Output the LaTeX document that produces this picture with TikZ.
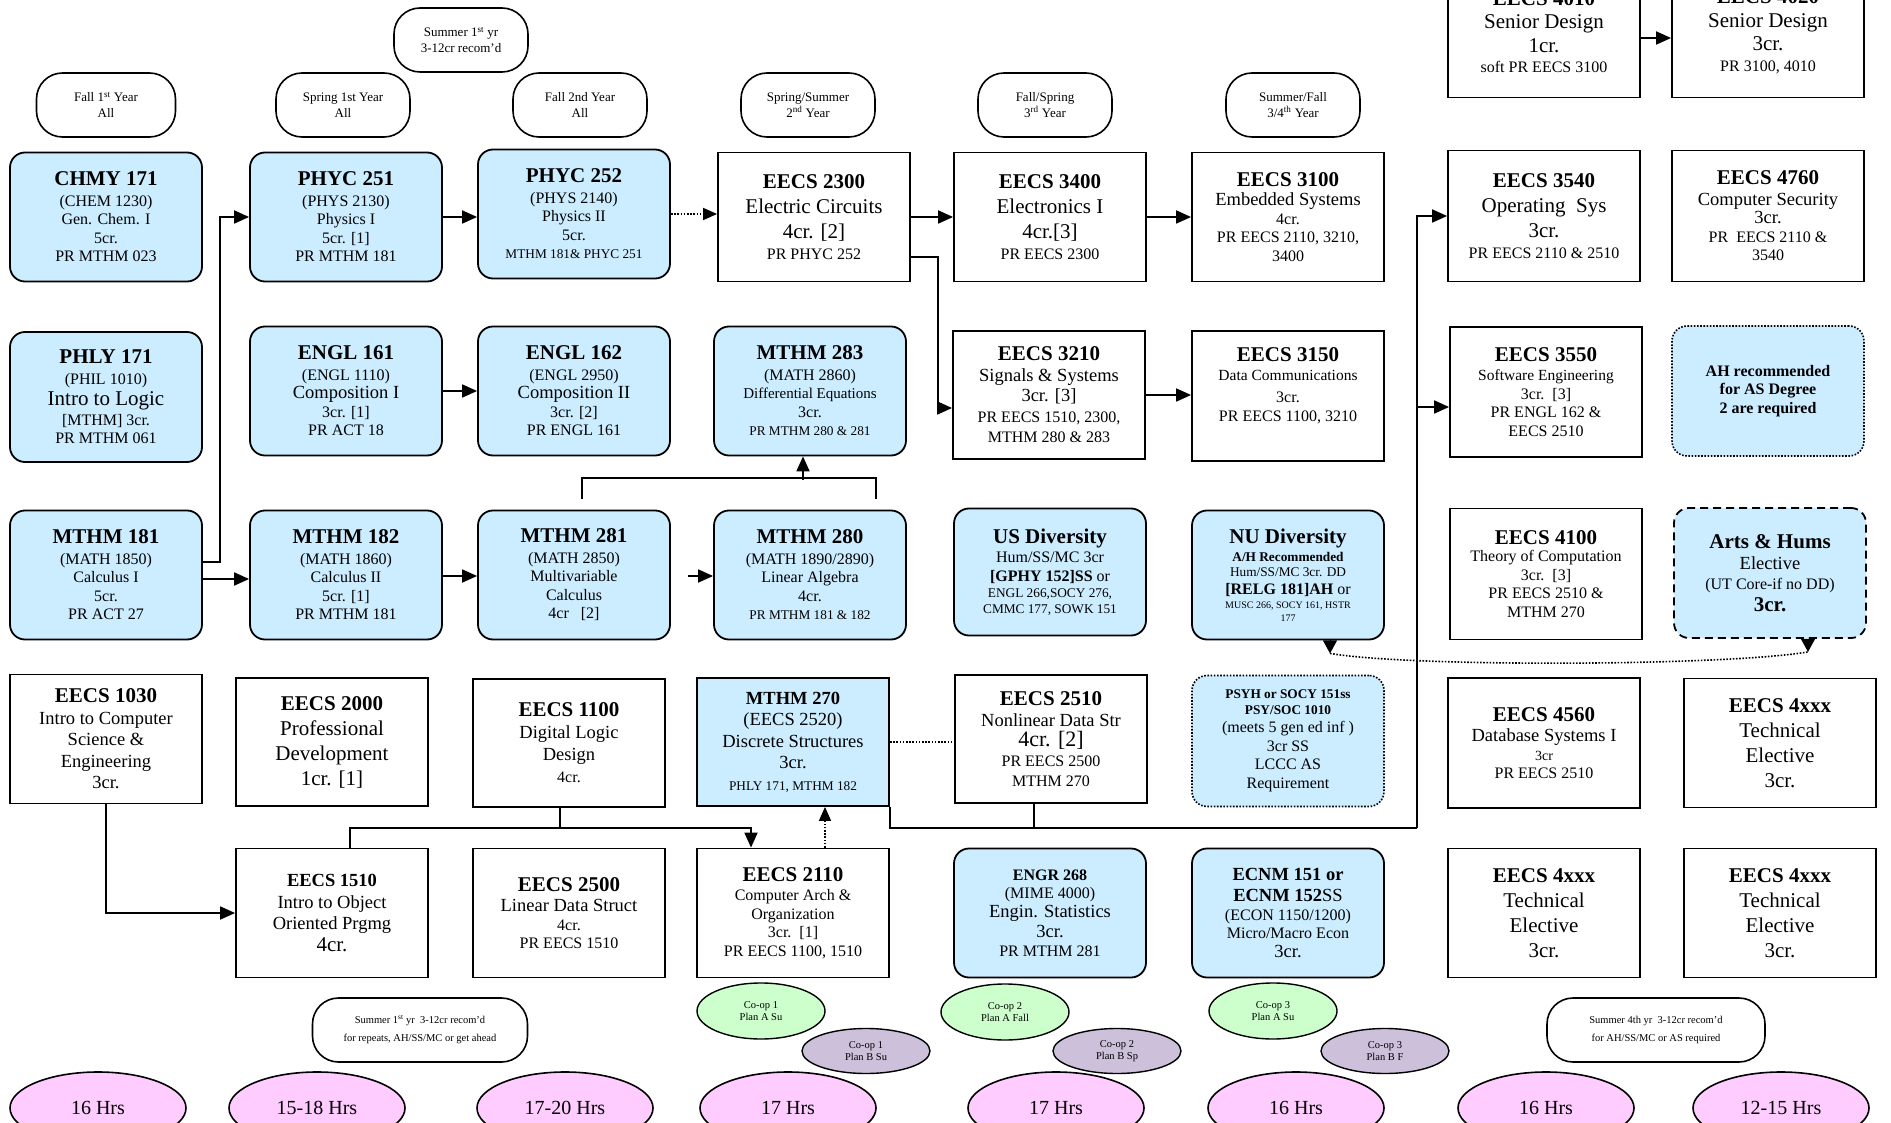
\documentclass[tikz,border=0pt]{standalone}
\usepackage{fontspec}
\setmainfont{Liberation Serif}
\usetikzlibrary{arrows.meta,shapes.geometric}
\definecolor{cblue}{RGB}{204,236,255}
\definecolor{cpink}{RGB}{255,204,255}
\definecolor{cgreen}{RGB}{204,255,204}
\definecolor{cpurple}{RGB}{204,192,218}
\newcommand\ffT{\fontsize{21}{24}\selectfont\bfseries}
\newcommand\ffL{\fontsize{21}{25}\selectfont}
\newcommand\ffK{\fontsize{18.5}{21.5}\selectfont}
\newcommand\ffM{\fontsize{16}{18.5}\selectfont}
\newcommand\ffS{\fontsize{13.3}{16}\selectfont}
\newcommand\ffO{\fontsize{13}{15.7}\selectfont}
\begin{document}
\begin{tikzpicture}[x=1pt,y=-1pt,
  box/.style={draw, line width=1.8pt, align=center, minimum width=192pt, minimum height=129pt, inner sep=1pt, font=\ffM},
  sq/.style={box, fill=white},
  sqb/.style={box, fill=cblue},
  rb/.style={box, rounded corners=15pt, fill=cblue},
  term/.style={draw, line width=1.6pt, rounded corners=26pt, minimum width=134pt, minimum height=64pt, align=center, font=\ffO, fill=white, inner sep=1pt},
  hrs/.style={draw, line width=1.6pt, ellipse, fill=cpink, minimum width=176pt, minimum height=72pt, inner sep=0pt, font=\fontsize{20}{22}\selectfont},
  coopa/.style={draw, line width=1.4pt, ellipse, fill=cgreen, minimum width=128pt, minimum height=56pt, inner sep=0pt, align=center, font=\fontsize{10.5}{12.5}\selectfont},
  coopb/.style={coopa, fill=cpurple, minimum height=45pt},
  conn/.style={line width=1.8pt},
  arr/.style={line width=1.8pt, -{Triangle[length=15pt,width=13pt]}},
  dots/.style={line width=1.6pt, dash pattern=on 1.6pt off 1.6pt},
  dotarr/.style={dots, -{Triangle[length=14pt,width=12pt]}}
]
\useasboundingbox (0,0) rectangle (1891,1123);
\fill[white] (0,0) rectangle (1891,1123);
\clip (0,0) rectangle (1891,1123);

% ---- semester ovals
\node[term, minimum width=139pt] (o1) at (106,105) {Fall 1\textsuperscript{st} Year\\All};
\node[term] (o2) at (343,105) {Spring 1st Year\\All};
\node[term] (o0) at (461,40) {Summer 1\textsuperscript{st} yr\\3-12cr recom’d};
\node[term] (o3) at (580,105) {Fall 2nd Year\\All};
\node[term] (o4) at (808,105) {Spring/Summer\\2\textsuperscript{nd} Year};
\node[term] (o5) at (1045,105) {Fall/Spring\\3\textsuperscript{rd} Year};
\node[term] (o6) at (1293,105) {Summer/Fall\\3/4\textsuperscript{th} Year};

% ---- row 1
\node[rb] (chmy) at (106,217) {{\ffT CHMY 171}\\[2pt] (CHEM 1230)\\ Gen. Chem. I\\ 5cr.\\ PR MTHM 023};
\node[rb] (p251) at (346,217) {{\ffT PHYC 251}\\[2pt] (PHYS 2130)\\ Physics I\\ 5cr. [1]\\ PR MTHM 181};
\node[rb] (p252) at (574,214) {{\ffT PHYC 252}\\[2pt] (PHYS 2140)\\ Physics II\\ 5cr.\\ {\ffS MTHM 181\& PHYC 251}};
\node[sq, font=\ffL] (e2300) at (814,217) {{\ffT EECS 2300}\\ Electric Circuits\\ 4cr. [2]\\[-4pt] {\ffM PR PHYC 252}};
\node[sq, font=\ffL] (e3400) at (1050,217) {{\ffT EECS 3400}\\ Electronics I\\ 4cr.[3]\\[-4pt] {\ffM PR EECS 2300}};
\node[sq] (e3100) at (1288,217) {{\ffT EECS 3100}\\[1pt] {\ffK Embedded Systems}\\ 4cr.\\ PR EECS 2110, 3210,\\ 3400};
\node[sq, font=\fontsize{21}{23.5}\selectfont, minimum height=131pt] (e4010) at (1544,32) {{\ffT EECS 4010}\\ Senior Design\\ 1cr.\\[-3pt] {\ffM soft PR EECS 3100}};
\node[sq, font=\fontsize{21}{23.5}\selectfont, minimum height=131pt] (e4020) at (1768,32) {{\ffT EECS 4020}\\ Senior Design\\ 3cr.\\[-3pt] {\ffM PR 3100, 4010}};
\node[sq, font=\ffL, minimum height=131pt] (e3540) at (1544,216) {{\ffT EECS 3540}\\ Operating\ \ Sys\\ 3cr.\\[-4pt] {\ffM PR EECS 2110 \& 2510}};
\node[sq, minimum height=131pt] (e4760) at (1768,216) {{\ffT EECS 4760}\\[2pt] {\ffK Computer Security}\\ {\ffK 3cr.}\\ PR\ \ EECS 2110 \&\\ 3540};

% ---- row 2
\node[rb, minimum height=130pt] (phly) at (106,397) {{\ffT PHLY 171}\\[2pt] (PHIL 1010)\\[3pt] {\ffL Intro to Logic}\\[1pt] {[MTHM] 3cr.}\\ PR MTHM 061};
\node[rb] (en161) at (346,391) {{\ffT ENGL 161}\\[2pt] (ENGL 1110)\\ {\ffK Composition I}\\ 3cr. [1]\\ PR ACT 18};
\node[rb] (en162) at (574,391) {{\ffT ENGL 162}\\[2pt] (ENGL 2950)\\ {\ffK Composition II}\\ 3cr. [2]\\ PR ENGL 161};
\node[rb] (m283) at (810,391) {{\ffT MTHM 283}\\[2pt] (MATH 2860)\\ {\fontsize{15}{18}\selectfont Differential Equations}\\ 3cr.\\ {\ffS PR MTHM 280 \& 281}};
\node[sq, font=\fontsize{16}{20.5}\selectfont, minimum height=128pt] (e3210) at (1049,395) {{\ffT EECS 3210}\\ {\ffK Signals \& Systems}\\ {\ffK 3cr. [3]}\\ PR EECS 1510, 2300,\\ MTHM 280 \& 283};
\node[sq, minimum height=130pt] (e3150) at (1288,396) {{\ffT EECS 3150}\\ {\fontsize{15.5}{18}\selectfont Data Communications}\\[4pt] 3cr.\\ PR EECS 1100, 3210\\[4pt] \mbox{}};
\node[sq, minimum height=130pt] (e3550) at (1546,392) {{\ffT EECS 3550}\\[1pt] {\fontsize{15.5}{18}\selectfont Software Engineering}\\ 3cr.\ \ [3]\\ PR ENGL 162 \&\\ EECS 2510};
\node[rb, dots, minimum height=130pt, font=\fontsize{16}{18.5}\selectfont\bfseries] (ah) at (1768,391) {AH recommended\\ for AS Degree\\ 2 are required};

% ---- row 3
\node[rb] (m181) at (106,575) {{\ffT MTHM 181}\\[2pt] (MATH 1850)\\ Calculus I\\ 5cr.\\ PR ACT 27};
\node[rb] (m182) at (346,575) {{\ffT MTHM 182}\\[2pt] (MATH 1860)\\ Calculus II\\ 5cr. [1]\\ PR MTHM 181};
\node[rb] (m281) at (574,575) {{\ffT MTHM 281}\\[2pt] (MATH 2850)\\ Multivariable\\ Calculus\\ 4cr\ \ \ [2]};
\node[rb] (m280) at (810,575) {{\ffT MTHM 280}\\[2pt] (MATH 1890/2890)\\ Linear Algebra\\ 4cr.\\ {\ffS PR MTHM 181 \& 182}};
\node[rb, minimum height=127pt] (usdiv) at (1050,572) {{\ffT US Diversity}\\[1pt] Hum/SS/MC 3cr\\ {\bfseries [GPHY 152]SS} or\\[-2pt] {\ffS ENGL 266,SOCY 276,}\\[-3pt] {\ffS CMMC 177, SOWK 151}};
\node[rb] (nudiv) at (1288,575) {{\ffT NU Diversity}\\[-1pt] {\ffS\bfseries A/H Recommended}\\[-3pt] {\ffS Hum/SS/MC 3cr. DD}\\[-1pt] {\bfseries [RELG 181]AH} or\\[-4pt] {\fontsize{10}{12}\selectfont MUSC 266, SOCY 161, HSTR}\\[-6pt] {\fontsize{10}{12}\selectfont 177}};
\node[sq, minimum height=131pt] (e4100) at (1546,574) {{\ffT EECS 4100}\\[-1pt] Theory of Computation\\ 3cr.\ \ [3]\\ PR EECS 2510 \&\\ MTHM 270};
\node[rb, dash pattern=on 8pt off 5pt, minimum height=130pt, font=\fontsize{16}{20.5}\selectfont] (arts) at (1770,573) {{\ffT Arts \& Hums}\\ {\ffK Elective}\\ (UT Core-if no DD)\\[1pt] {\ffT 3cr.}};

% ---- row 4
\node[sq, font=\ffK] (e1030) at (106,739) {{\ffT EECS 1030}\\ Intro to Computer\\ Science \&\\ Engineering\\ 3cr.};
\node[sq, font=\ffL, minimum height=128pt] (e2000) at (332,742) {{\ffT EECS 2000}\\ Professional\\ Development\\ 1cr. [1]};
\node[sq, font=\fontsize{18.5}{22}\selectfont, minimum height=128pt] (e1100) at (569,743) {{\ffT EECS 1100}\\ Digital Logic\\ Design\\ {\ffM 4cr.}};
\node[sqb, font=\fontsize{18.5}{21.5}\selectfont, minimum height=128pt] (m270) at (793,742) {{\bfseries MTHM 270}\\ (EECS 2520)\\ Discrete Structures\\ 3cr.\\ {\ffS PHLY 171, MTHM 182}};
\node[sq, font=\fontsize{16}{20}\selectfont, minimum height=128pt] (e2510) at (1051,739) {{\ffT EECS 2510}\\[1pt] {\ffK Nonlinear Data Str}\\ {\fontsize{22}{25}\selectfont 4cr. [2]}\\ PR EECS 2500\\ MTHM 270};
\node[rb, dots, font=\fontsize{16}{18.5}\selectfont, minimum height=131pt] (psyh) at (1288,741) {{\ffS\bfseries PSYH or SOCY 151ss}\\[-3pt] {\ffS\bfseries PSY/SOC 1010}\\ (meets 5 gen ed inf )\\ 3cr SS\\ LCCC AS\\ Requirement};
\node[sq, minimum height=130pt] (e4560) at (1544,743) {{\ffT EECS 4560}\\[2pt] {\ffK Database Systems I}\\ {\fontsize{14}{16}\selectfont 3cr}\\ PR EECS 2510};
\node[sq, font=\ffL, minimum height=129pt] (e4xa) at (1780,743) {{\ffT EECS 4xxx}\\ Technical\\ Elective\\ 3cr.};

% ---- row 5
\node[sq, font=\ffK] (e1510) at (332,913) {{\bfseries EECS 1510}\\ Intro to Object\\ Oriented Prgmg\\ {\ffL 4cr.}};
\node[sq] (e2500) at (569,913) {{\ffT EECS 2500}\\[2pt] {\ffK Linear Data Struct}\\ 4cr.\\ PR EECS 1510};
\node[sq] (e2110) at (793,913) {{\ffT EECS 2110}\\[1pt] Computer Arch \&\\ Organization\\ 3cr.\ \ [1]\\ PR EECS 1100, 1510};
\node[rb] (engr) at (1050,913) {{\bfseries ENGR 268}\\ (MIME 4000)\\ {\ffK Engin. Statistics}\\[2pt] {\ffK 3cr.}\\ PR MTHM 281};
\node[rb] (ecnm) at (1288,913) {{\fontsize{18.5}{21}\selectfont\bfseries ECNM 151 or}\\[3pt] {\fontsize{18.5}{21}\selectfont\bfseries ECNM 152\mdseries SS}\\ (ECON 1150/1200)\\ Micro/Macro Econ\\ {\ffK 3cr.}};
\node[sq, font=\ffL] (e4xb) at (1544,913) {{\ffT EECS 4xxx}\\ Technical\\ Elective\\ 3cr.};
\node[sq, font=\ffL] (e4xc) at (1780,913) {{\ffT EECS 4xxx}\\ Technical\\ Elective\\ 3cr.};

% ---- bottom notes
\node[term, minimum width=215pt, font=\fontsize{10.5}{18}\selectfont] (s1b) at (420,1030) {Summer 1\textsuperscript{st} yr\ \ 3-12cr recom’d\\ for repeats, AH/SS/MC or get ahead};
\node[term, minimum width=218pt, font=\fontsize{10.5}{18}\selectfont] (s4b) at (1656,1030) {Summer 4th yr\ \ 3-12cr recom’d\\ for AH/SS/MC or AS required};
\node[coopa] (c1a) at (761,1011) {Co-op 1\\Plan A Su};
\node[coopb] (c1b) at (866,1051) {Co-op 1\\Plan B Su};
\node[coopa] (c2a) at (1005,1012) {Co-op 2\\Plan A Fall};
\node[coopb] (c2b) at (1117,1051) {Co-op 2\\Plan B Sp};
\node[coopa] (c3a) at (1273,1011) {Co-op 3\\Plan A Su};
\node[coopb] (c3b) at (1385,1051) {Co-op 3\\Plan B F};

\node[hrs] (h1) at (98,1108) {16 Hrs};
\node[hrs] (h2) at (317,1108) {15-18 Hrs};
\node[hrs] (h3) at (565,1108) {17-20 Hrs};
\node[hrs] (h4) at (788,1108) {17 Hrs};
\node[hrs] (h5) at (1056,1108) {17 Hrs};
\node[hrs] (h6) at (1296,1108) {16 Hrs};
\node[hrs] (h7) at (1546,1108) {16 Hrs};
\node[hrs] (h8) at (1781,1108) {12-15 Hrs};

% ---- connectors
\draw[arr] ([yshift=13pt]m181.east) -- ++(17,0) |- (p251.west);
\draw[arr] (p251.east) -- (p251.east -| p252.west);
\draw[dotarr] (p252.east) -- (p252.east -| e2300.west);
\draw[arr] (e2300.east) -- (e3400.west);
\draw[arr] (e3400.east) -- (e3100.west);
\draw[arr] ([yshift=-40pt]e2300.east) -- ++(27,0) |- ([yshift=-13pt]e3210.west);
\draw[arr] (e3210.east) -- (e3210.east -| e3150.west);
\draw[arr] ([yshift=-6pt]e4010.east) -- ([yshift=-6pt]e4020.west);
\draw[arr] (en161.east) -- (en162.west);
\draw[arr] ([yshift=-4pt]m181.east) -- ([yshift=-4pt]m182.west);
\draw[arr] ([yshift=-1pt]m182.east) -- ([yshift=-1pt]m281.west);
\draw[arr] ([xshift=17pt,yshift=-1pt]m281.east) -- ([yshift=-1pt]m280.west);
\path ([xshift=8pt,yshift=11pt]m281.north) coordinate (ja)
      ([xshift=66pt,yshift=11pt]m280.north) coordinate (jb)
      ([xshift=-7pt,yshift=-24pt]m283.south) coordinate (jc);
\draw[conn] (ja) -- ++(0,-21) -| (jb);
\draw[arr] (jc) -- (jc |- m283.south);
\draw[arr] (e1030.south) |- (e1510.west);
\path ([xshift=-9pt]e1100.south) coordinate (kb0)
      ([xshift=18pt]e1510.north) coordinate (kl)
      ([xshift=-42pt]e2110.north) coordinate (kr)
      ([xshift=32pt]e2110.north) coordinate (kd);
\draw[conn] (kb0) -- ++(0,20) coordinate (kb);
\draw[conn] (kl) |- (kb);
\draw[arr] (kb) -| (kr);
\draw[dotarr] (kd) -- (kd |- m270.south);
\draw[dots] (m270.east) -- (m270.east -| e2510.west);
\coordinate (bus) at (1417,828);
\path ([xshift=-17pt]e2510.south) coordinate (e2510b)
      ([yshift=-15pt]e3550.west) coordinate (e3550in);
\draw[conn] (m270.south east) |- (bus);
\draw[conn] (e2510b) -- (e2510b |- bus);
\draw[arr] (bus) |- (e3540.west);
\draw[arr] (e3550in -| bus) -- (e3550in);
\path ([xshift=42pt]nudiv.south) coordinate (na)
      ([xshift=38pt]arts.south) coordinate (nb);
\draw[line width=1pt, -{Triangle[length=13pt,width=14pt]}] (na) -- ++(0,13) coordinate (na2);
\draw[line width=1pt, -{Triangle[length=13pt,width=14pt]}] (nb) -- ++(0,13) coordinate (nb2);
\draw[dots] (na2) .. controls +(80,14) and +(-80,14) .. (nb2);
\end{tikzpicture}
\end{document}
